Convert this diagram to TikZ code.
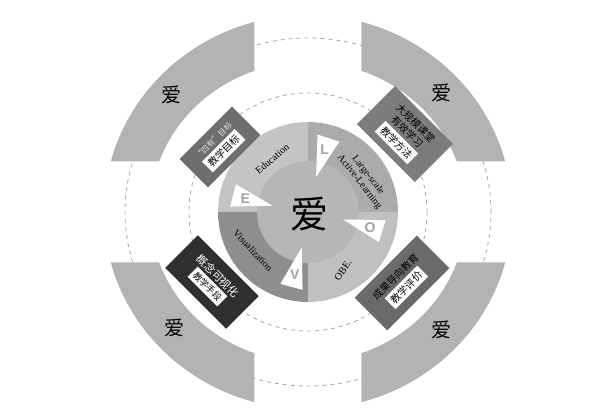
\documentclass[tikz,border=0pt]{standalone}
\usepackage{fontspec}
\setmainfont{Liberation Serif}
\newfontfamily\cjk{Noto Sans CJK SC}
\newfontfamily\lettersf{Liberation Sans}

\definecolor{ringgray}{HTML}{B3B3B3}
\definecolor{dashgray}{HTML}{A6A6A6}
\definecolor{coregray}{HTML}{B6B6B6}
\definecolor{edugray}{HTML}{C4C4C4}
\definecolor{lslgray}{HTML}{ABABAB}
\definecolor{obegray}{HTML}{C0C0C0}
\definecolor{visgray}{HTML}{8E8E8E}
\definecolor{lettergray}{HTML}{A2A2A2}

\begin{document}
\begin{tikzpicture}[x=1pt, y=1pt,
    dashring/.style={draw=dashgray, dash pattern=on 4pt off 4pt, line width=0.8pt},
    card/.style={inner sep=0pt, align=center, font=\cjk, minimum height=#1},
    quadlabel/.style={font=\fontsize{10}{11}\selectfont, align=center},
    outerai/.style={font=\cjk\fontsize{20}{20}\selectfont}]
    \useasboundingbox (-308,-203) rectangle (292,212);

    % Draw rings
    \draw[dashring] (0,0) ellipse[x radius=183, y radius=174];
    \begin{scope}
        \clip (53.5,50.5) rectangle (230,230) (-53.5,50.5) rectangle (-230,230)
              (-53.5,-50.5) rectangle (-230,-230) (53.5,-50.5) rectangle (230,-230);
        \fill[ringgray, even odd rule] (0,0) ellipse[x radius=204, y radius=197]
              (0,0) ellipse[x radius=158, y radius=150];
    \end{scope}
    \draw[dashring] (0,0) circle[radius=119];

    % Draw quadrants
    \fill[edugray] (0,0) -- (90:90) arc[start angle=90, end angle=180, radius=90] -- cycle;
    \fill[lslgray] (0,0) -- (0:90) arc[start angle=0, end angle=90, radius=90] -- cycle;
    \fill[obegray] (0,0) -- (-90:90) arc[start angle=-90, end angle=0, radius=90] -- cycle;
    \fill[visgray] (0,0) -- (180:90) arc[start angle=180, end angle=270, radius=90] -- cycle;
    \fill[coregray] (0,0) circle[radius=51];

    % Draw pointers
    \foreach \ang/\ltr/\nm in {168/E/e, 75/L/l, -14/O/o, 258/V/v} {
        \fill[white] (\ang+8:78) -- (\ang-9:77) -- (\ang+2:36) -- cycle;
        \node[text=lettergray, font=\lettersf\bfseries\fontsize{14}{14}\selectfont] (\nm) at (\ang:64) {\ltr};
    }

    % Labels
    \node[font=\cjk\fontsize{38}{38}\selectfont] (ai) at (2,-2) {爱};
    \node[quadlabel, rotate=40] (edu) at (124:64) {Education};
    \node[quadlabel, rotate=-52] (lsal) at (31:65) {Large-scale\\Active-Learning};
    \node[quadlabel, rotate=55] (obe) at (-59:68) {OBE.};
    \node[quadlabel, rotate=-47] (vis) at (215:67) {Visualization};

    \node[outerai] (ai1) at (-136,117) {爱};
    \node[outerai] (ai2) at (134,119) {爱};
    \node[outerai] (ai3) at (-133,-116) {爱};
    \node[outerai] (ai4) at (134,-118) {爱};

    % Draw cards
    \node[card=40pt, minimum width=74pt, rotate=45, fill={rgb,255:red,110;green,110;blue,110}, text={rgb,255:red,225;green,225;blue,225}] (goal) at (-88,65)
        {{\fontsize{8}{9}\selectfont “四有”目标}\\[2pt]\colorbox{white}{\color{black}\fontsize{10}{11}\selectfont 教学目标}};
    \node[card=54pt, minimum width=82pt, rotate=-45, fill={rgb,255:red,124;green,124;blue,124}, text=black] (method) at (97,78)
        {\fontsize{10}{11}\selectfont 大规模课堂\\有效学习\\[2pt]\colorbox{white}{\fontsize{10}{11}\selectfont 教学方法}};
    \node[card=46pt, minimum width=86pt, rotate=-45, fill={rgb,255:red,47;green,47;blue,47}, text=white] (means) at (-96,-70)
        {\fontsize{11}{12}\selectfont 概念可视化\\[2pt]\colorbox{white}{\color{black}\fontsize{9}{10}\selectfont 教学手段}};
    \node[card=46pt, minimum width=88pt, rotate=45, fill={rgb,255:red,106;green,106;blue,106}, text=black] (assess) at (94,-71)
        {\fontsize{10}{11}\selectfont 成果导向教育\\[2pt]\colorbox{white}{\fontsize{10}{11}\selectfont 教学评价}};
\end{tikzpicture}
\end{document}
